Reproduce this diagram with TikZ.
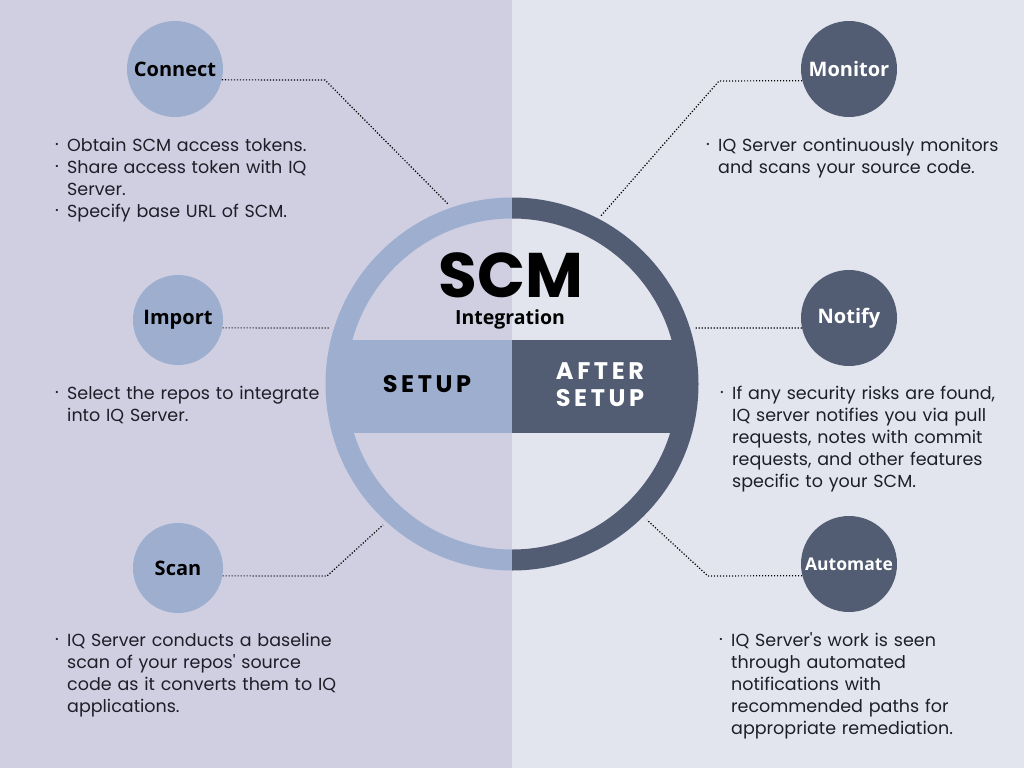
\documentclass[tikz,border=0pt]{standalone}
\usepackage{fontspec}
\setmainfont{Poppins}
\newfontfamily\headfont{Open Sans}
\newfontfamily\spacedfont[LetterSpace=15]{Poppins}
\usepackage{xcolor}
\usepackage{tikz}
\usetikzlibrary{calc, positioning}

\definecolor{bgleft}{HTML}{D0CFE2}
\definecolor{bgright}{HTML}{E2E5EE}
\definecolor{setupblue}{HTML}{9DAECF}
\definecolor{afterslate}{HTML}{525D73}
\definecolor{inktext}{HTML}{1E1E28}

\newcommand{\bitem}[1]{\par\noindent
  \makebox[12pt][l]{\raisebox{0.22em}{\fontsize{9}{9}\selectfont\textbullet}}%
  \parbox[t]{290pt}{\raggedright #1\par\xdef\notesdepth{\the\prevdepth}}%
  \par\prevdepth=\notesdepth\relax}

\begin{document}
\begin{tikzpicture}[x=1pt, y=-1pt,
    stage/.style={circle, minimum size=96pt, inner sep=0pt,
      font=\headfont\bfseries\fontsize{20}{20}\selectfont},
    setupstage/.style={stage, fill=setupblue, text=black},
    afterstage/.style={stage, fill=afterslate, text=white},
    notes/.style={anchor=north west, inner sep=0pt, text width=310pt,
      text=inktext, font=\fontsize{17.5}{22}\selectfont},
    dotlink/.style={line width=1.2pt, dash pattern=on 1.2pt off 1.8pt, black}]
    % Hintergrund, zwei Hälften
    \fill[bgleft] (0,0) rectangle (512,768);
    \fill[bgright] (512,0) rectangle (1024,768);
    \useasboundingbox (0,0) rectangle (1024,768);

    % Ring mit Band
    \coordinate (ctr) at (512,384);
    \begin{scope}
        \clip (0,0) rectangle (512,768);
        \draw[setupblue, line width=21pt] (ctr) circle (176pt);
        \clip (ctr) circle (170pt);
        \fill[setupblue] (0,340) rectangle (512,433);
    \end{scope}
    \begin{scope}
        \clip (512,0) rectangle (1024,768);
        \draw[afterslate, line width=21pt] (ctr) circle (176pt);
        \clip (ctr) circle (170pt);
        \fill[afterslate] (512,340) rectangle (1024,433);
    \end{scope}

    \node[inner sep=0pt, font=\bfseries\fontsize{63}{63}\selectfont] (scm) at (511,275) {SCM};
    \node[inner sep=0pt, font=\headfont\bfseries\fontsize{19.5}{20}\selectfont] (integ) at (510,319) {Integration};
    \node[font=\spacedfont\bfseries\fontsize{24}{24}\selectfont] (setup) at (427,384) {SETUP};
    \node[font=\spacedfont\bfseries\fontsize{24}{27}\selectfont, text=white, align=center]
        (aftersetup) at (600,385) {AFTER\\SETUP};

    % Kreise links und rechts
    \node[setupstage] (connect) at (175,69) {Connect};
    \node[setupstage, minimum size=90pt] (import) at (178,320) {Import};
    \node[setupstage, minimum size=90pt] (scan) at (178,568) {Scan};
    \node[afterstage] (monitor) at (849,69) {Monitor};
    \node[afterstage] (notify) at (849,318) {Notify};
    \node[afterstage, font=\headfont\bfseries\fontsize{17.5}{18}\selectfont] (automate) at (849,564) {Automate};

    % gepunktete Verbindungen zum Ring
    \coordinate (connectbend) at (325,80);
    \coordinate (connectend) at (448,204);
    \coordinate (importend) at (330,328);
    \coordinate (scanbend) at (327,576);
    \coordinate (scanend) at (383,525);
    \coordinate (monitorbend) at (719,81);
    \coordinate (monitorend) at (600,217);
    \coordinate (notifyend) at (695,328);
    \coordinate (automatebend) at (708,576);
    \coordinate (automateend) at (647,520);
    \draw[dotlink] (connect.-13) -- (connectbend) -- (connectend);
    \draw[dotlink] (import.-10) -- (importend);
    \draw[dotlink] (scan.-10) -- (scanbend) -- (scanend);
    \draw[dotlink] (monitor.194) -- (monitorbend) -- (monitorend);
    \draw[dotlink] (notify.192) -- (notifyend);
    \draw[dotlink] (automate.194) -- (automatebend) -- (automateend);

    % Stichpunkte
    \node[notes] (connectnotes) at (55,129) {\bitem{Obtain SCM access tokens.}%
        \bitem{Share access token with IQ\\Server.}\bitem{Specify base URL of SCM.}};
    \node[notes] (importnotes) at (55,377) {\bitem{Select the repos to integrate\\into IQ Server.}};
    \node[notes] (scannotes) at (55,624) {\bitem{IQ Server conducts a baseline\\scan of your repos\textquotesingle{} source\\code as it converts them to IQ\\applications.}};
    \node[notes] (monitornotes) at (706,129) {\bitem{IQ Server continuously monitors\\and scans your source code.}};
    \node[notes] (notifynotes) at (720,377) {\bitem{If any security risks are found,\\IQ server notifies you via pull\\requests, notes with commit\\requests, and other features\\specific to your SCM.}};
    \node[notes] (automatenotes) at (719,624) {\bitem{IQ Server\textquotesingle{}s work is seen\\through automated\\notifications with\\recommended paths for\\appropriate remediation.}};
\end{tikzpicture}
\end{document}
